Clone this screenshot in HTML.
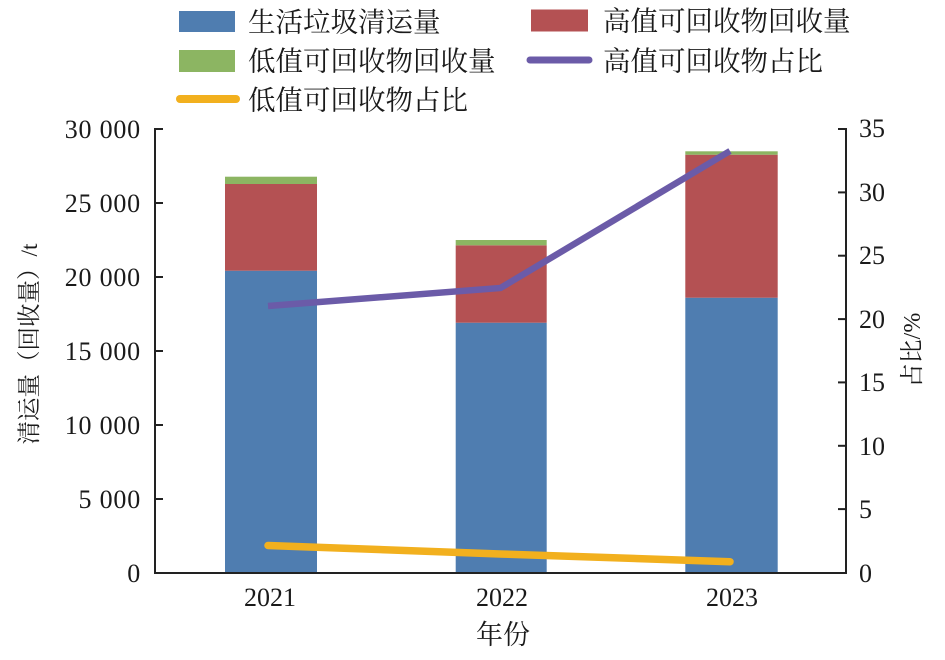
<!DOCTYPE html>
<html><head><meta charset="utf-8"><style>
html,body{margin:0;padding:0;background:#fff;}
svg{display:block;}
.num{font-family:"Liberation Serif",serif;font-size:26px;fill:#1a1a1a;}
.cjk{font-family:"Liberation Serif","Noto Serif CJK SC",serif;fill:#1a1a1a;}
</style></head><body>
<svg width="945" height="660" viewBox="0 0 945 660" xmlns="http://www.w3.org/2000/svg">
<rect width="945" height="660" fill="#fff"/>
<!-- legend -->
<rect x="179" y="11" width="56" height="21" fill="#4f7db0"/>
<text class="cjk" x="248" y="22" font-size="27.5" dominant-baseline="central">生活垃圾清运量</text>
<rect x="179" y="50" width="56" height="22" fill="#8cb562"/>
<text class="cjk" x="248" y="61" font-size="27.5" dominant-baseline="central">低值可回收物回收量</text>
<line x1="180" y1="99" x2="236" y2="99" stroke="#f2b01e" stroke-width="8" stroke-linecap="round"/>
<text class="cjk" x="248" y="100" font-size="27.5" dominant-baseline="central">低值可回收物占比</text>
<rect x="531" y="9.5" width="57" height="22" fill="#b45153"/>
<text class="cjk" x="603" y="21" font-size="27.5" dominant-baseline="central">高值可回收物回收量</text>
<line x1="530" y1="60" x2="589" y2="60" stroke="#6b5ba8" stroke-width="7" stroke-linecap="round"/>
<text class="cjk" x="603" y="61" font-size="27.5" dominant-baseline="central">高值可回收物占比</text>

<!-- bars -->
<rect x="225" y="270.7" width="92" height="302.3" fill="#4f7db0"/>
<rect x="225" y="184" width="92" height="86.7" fill="#b45153"/>
<rect x="225" y="176.7" width="92" height="7.3" fill="#8cb562"/>

<rect x="455.7" y="322.7" width="91" height="250.3" fill="#4f7db0"/>
<rect x="455.7" y="245.3" width="91" height="77.4" fill="#b45153"/>
<rect x="455.7" y="240" width="91" height="5.3" fill="#8cb562"/>

<rect x="685.3" y="297.7" width="92.4" height="275.3" fill="#4f7db0"/>
<rect x="685.3" y="154.7" width="92.4" height="143" fill="#b45153"/>
<rect x="685.3" y="151.3" width="92.4" height="3.4" fill="#8cb562"/>

<!-- lines -->
<polyline points="268,306 500.5,288 730,151" fill="none" stroke="#6b5ba8" stroke-width="6.5" stroke-linejoin="miter"/>
<polyline points="268,545.5 500,554 730,561.7" fill="none" stroke="#f2b01e" stroke-width="7.5" stroke-linecap="round"/>

<!-- axes -->
<g stroke="#222" stroke-width="2" fill="none">
<line x1="155" y1="128" x2="155" y2="574"/>
<line x1="154" y1="573" x2="847" y2="573"/>
<line x1="846" y1="128" x2="846" y2="574"/>
<line x1="155" y1="129" x2="163" y2="129"/>
<line x1="155" y1="203" x2="163" y2="203"/>
<line x1="155" y1="277" x2="163" y2="277"/>
<line x1="155" y1="351" x2="163" y2="351"/>
<line x1="155" y1="425" x2="163" y2="425"/>
<line x1="155" y1="499" x2="163" y2="499"/>
<line x1="838" y1="129" x2="846" y2="129"/>
<line x1="838" y1="192.4" x2="846" y2="192.4"/>
<line x1="838" y1="255.7" x2="846" y2="255.7"/>
<line x1="838" y1="319.1" x2="846" y2="319.1"/>
<line x1="838" y1="382.4" x2="846" y2="382.4"/>
<line x1="838" y1="445.8" x2="846" y2="445.8"/>
<line x1="838" y1="509.1" x2="846" y2="509.1"/>
</g>

<!-- left tick labels -->
<g class="num" text-anchor="end" letter-spacing="0.8">
<text x="141" y="138">30 000</text>
<text x="141" y="212">25 000</text>
<text x="141" y="286">20 000</text>
<text x="141" y="360">15 000</text>
<text x="141" y="434">10 000</text>
<text x="141" y="508">5 000</text>
<text x="141" y="582">0</text>
</g>
<!-- right tick labels -->
<g class="num">
<text x="859" y="137">35</text>
<text x="859" y="201">30</text>
<text x="859" y="264">25</text>
<text x="859" y="328">20</text>
<text x="859" y="391">15</text>
<text x="859" y="455">10</text>
<text x="859" y="518">5</text>
<text x="859" y="582">0</text>
</g>
<!-- x tick labels -->
<g class="num" text-anchor="middle">
<text x="270" y="606">2021</text>
<text x="502" y="606">2022</text>
<text x="732" y="606">2023</text>
</g>
<text class="cjk" x="503" y="635" font-size="27" text-anchor="middle" dominant-baseline="central">年份</text>

<!-- axis titles -->
<text class="cjk" font-size="23.5" text-anchor="middle" dominant-baseline="central" transform="translate(30,344) rotate(-90)">清运量（回收量）/t</text>
<text class="cjk" font-size="24" text-anchor="middle" dominant-baseline="central" transform="translate(913,350) rotate(-90)">占比/%</text>
</svg>
</body></html>
